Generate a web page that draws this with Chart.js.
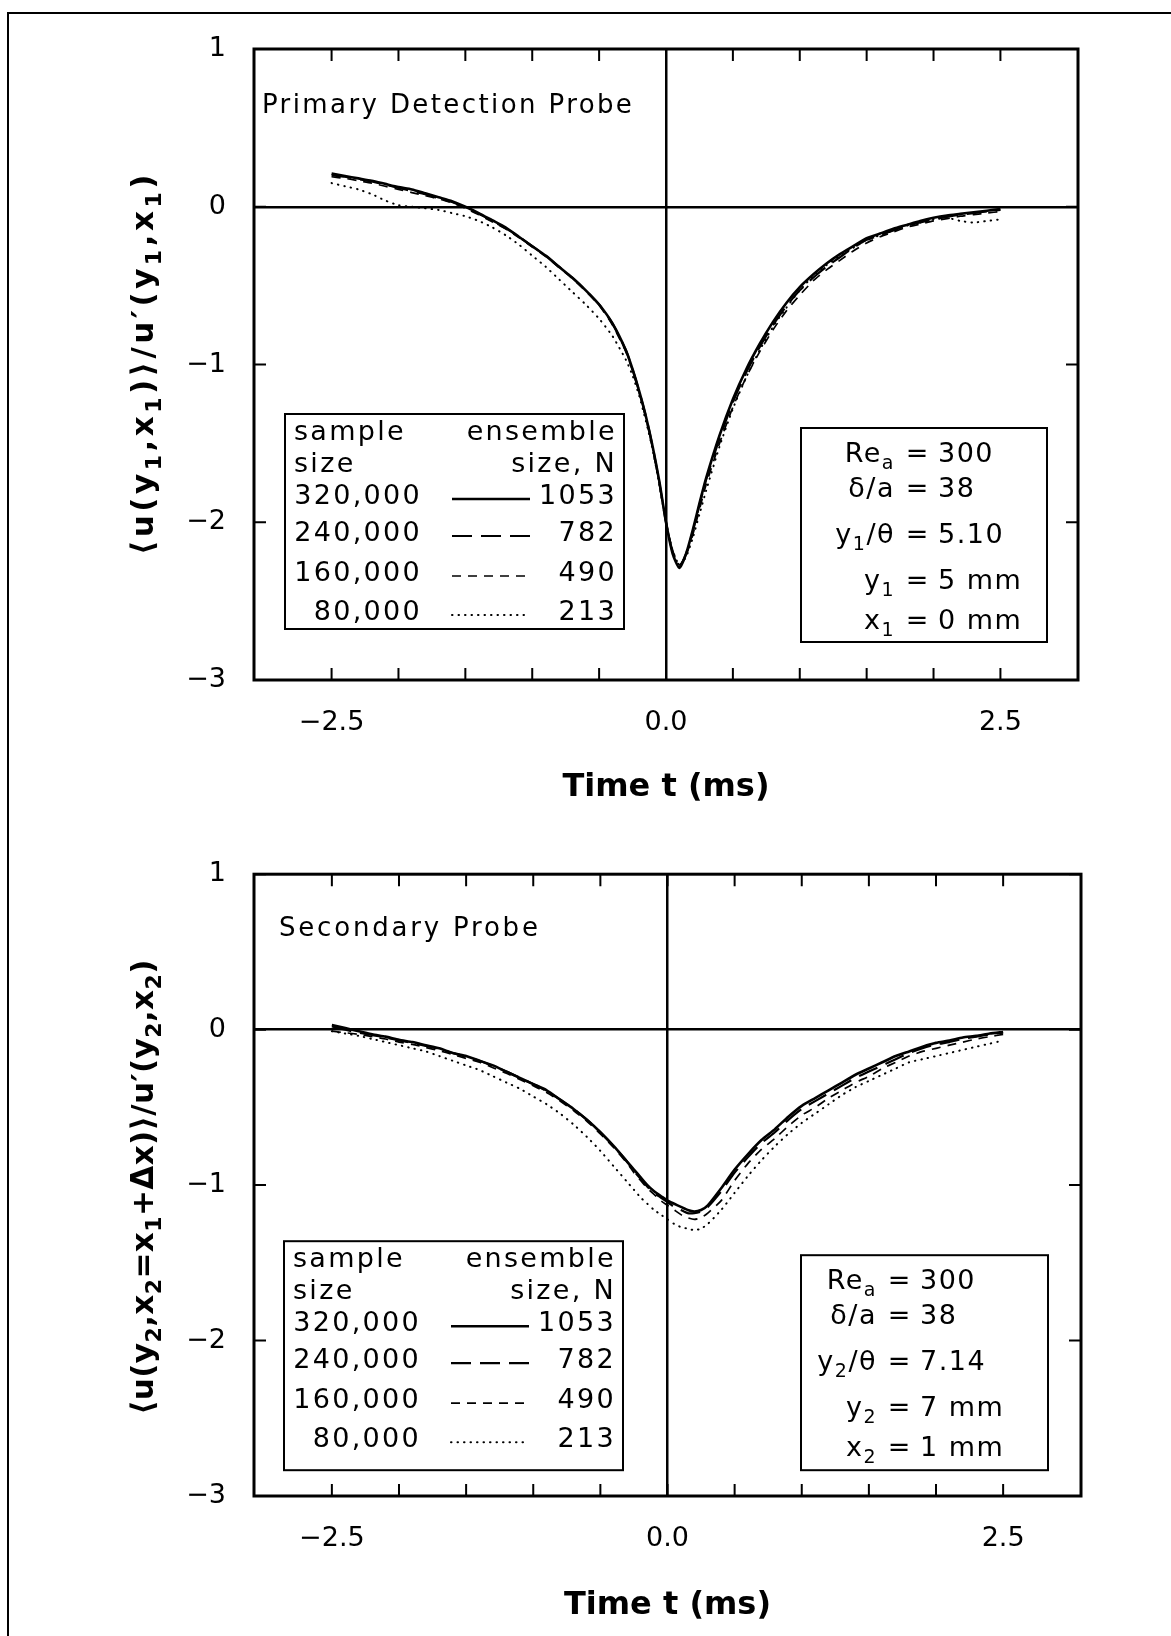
<!DOCTYPE html>
<html>
<head>
<meta charset="utf-8">
<script src="https://cdn.jsdelivr.net/npm/chart.js@4.4.1/dist/chart.umd.min.js"></script>
<style>
  body { margin: 0; background: #fff; }
  #page { position: relative; width: 1171px; height: 1636px; overflow: hidden; background: #fff; }
  #frame { position: absolute; left: 7px; top: 12px; width: 1300px; height: 1800px;
           border-left: 2px solid #000; border-top: 2px solid #000; }
  canvas { position: absolute; left: 0; }
  #topChart { top: 0; }
  #botChart { top: 830px; }
</style>
</head>
<body>
<div id="page">
  <div id="frame"></div>
  <canvas id="topChart" width="1171" height="830"></canvas>
  <canvas id="botChart" width="1171" height="806"></canvas>
</div>
<script>
// time axis (ms), shared by all curves
const timeMs = [-2.5, -2.4, -2.3, -2.2, -2.1, -2.0, -1.9, -1.8, -1.7, -1.6, -1.5, -1.4, -1.3, -1.2, -1.1,
  -1.0, -0.9, -0.8, -0.7, -0.6, -0.5, -0.4, -0.3, -0.25, -0.2, -0.15, -0.1, -0.05, 0, 0.05, 0.1, 0.15,
  0.2, 0.25, 0.3, 0.4, 0.5, 0.6, 0.7, 0.8, 0.9, 1.0, 1.1, 1.2, 1.3, 1.4, 1.5, 1.6, 1.7, 1.8, 1.9, 2.0,
  2.1, 2.2, 2.3, 2.4, 2.5];

// primary detection probe
const top1053 = [0.21, 0.195, 0.18, 0.165, 0.145, 0.125, 0.11, 0.085, 0.06, 0.035, 0.0, -0.04, -0.085, -0.13, -0.19,
  -0.25, -0.31, -0.38, -0.45, -0.53, -0.62, -0.74, -0.91, -1.03, -1.17, -1.33, -1.52, -1.74, -2.0, -2.2, -2.29, -2.2,
  -2.05, -1.88, -1.72, -1.45, -1.22, -1.03, -0.87, -0.73, -0.61, -0.51, -0.43, -0.36, -0.30, -0.25, -0.20, -0.17, -0.14, -0.115, -0.09, -0.07,
  -0.055, -0.045, -0.035, -0.025, -0.015];
const top782 = [0.20, 0.19, 0.175, 0.16, 0.14, 0.12, 0.10, 0.08, 0.055, 0.03, -0.005, -0.045, -0.09, -0.135, -0.19,
  -0.25, -0.31, -0.38, -0.45, -0.53, -0.62, -0.74, -0.91, -1.03, -1.17, -1.33, -1.52, -1.75, -2.0, -2.19, -2.28, -2.2,
  -2.06, -1.89, -1.73, -1.47, -1.24, -1.05, -0.89, -0.75, -0.63, -0.53, -0.45, -0.38, -0.32, -0.26, -0.21, -0.18, -0.15, -0.12, -0.10, -0.08,
  -0.065, -0.05, -0.04, -0.03, -0.02];
const top490 = [0.19, 0.18, 0.165, 0.15, 0.13, 0.11, 0.09, 0.07, 0.05, 0.025, -0.01, -0.05, -0.095, -0.14, -0.195,
  -0.255, -0.315, -0.385, -0.455, -0.535, -0.625, -0.75, -0.92, -1.04, -1.18, -1.34, -1.53, -1.75, -2.0, -2.18, -2.27, -2.21,
  -2.08, -1.92, -1.76, -1.5, -1.27, -1.08, -0.92, -0.78, -0.66, -0.56, -0.47, -0.40, -0.34, -0.28, -0.23, -0.19, -0.16, -0.13, -0.11, -0.09,
  -0.075, -0.06, -0.05, -0.04, -0.03];
const top213 = [0.15, 0.13, 0.11, 0.08, 0.04, 0.01, 0.0, -0.01, -0.02, -0.04, -0.06, -0.09, -0.13, -0.18, -0.24,
  -0.31, -0.38, -0.46, -0.54, -0.62, -0.71, -0.82, -0.97, -1.07, -1.2, -1.36, -1.54, -1.76, -2.0, -2.18, -2.27, -2.22,
  -2.1, -1.95, -1.8, -1.52, -1.28, -1.08, -0.91, -0.76, -0.64, -0.53, -0.44, -0.37, -0.31, -0.26, -0.21, -0.18, -0.15, -0.12, -0.10, -0.08,
  -0.07, -0.09, -0.10, -0.09, -0.08];

// secondary probe
const bot1053 = [0.03, 0.01, -0.01, -0.03, -0.045, -0.065, -0.08, -0.1, -0.12, -0.15, -0.17, -0.2, -0.23, -0.27, -0.31,
  -0.35, -0.39, -0.45, -0.51, -0.58, -0.66, -0.75, -0.85, -0.9, -0.95, -1.0, -1.04, -1.07, -1.1, -1.12, -1.14, -1.16,
  -1.17, -1.16, -1.13, -1.02, -0.9, -0.8, -0.71, -0.64, -0.56, -0.49, -0.44, -0.39, -0.34, -0.29, -0.25, -0.21, -0.17, -0.14, -0.11, -0.085,
  -0.07, -0.05, -0.04, -0.025, -0.015];
const bot782 = [0.02, 0.0, -0.02, -0.035, -0.05, -0.07, -0.085, -0.105, -0.125, -0.15, -0.175, -0.2, -0.235, -0.27, -0.31,
  -0.35, -0.395, -0.45, -0.51, -0.58, -0.66, -0.75, -0.85, -0.91, -0.96, -1.01, -1.05, -1.08, -1.11, -1.14, -1.16, -1.18,
  -1.18, -1.17, -1.14, -1.04, -0.92, -0.82, -0.73, -0.66, -0.58, -0.51, -0.46, -0.41, -0.36, -0.31, -0.27, -0.23, -0.19, -0.15, -0.12, -0.095,
  -0.08, -0.06, -0.045, -0.03, -0.02];
const bot490 = [-0.01, -0.02, -0.03, -0.045, -0.06, -0.08, -0.095, -0.115, -0.135, -0.16, -0.185, -0.21, -0.245, -0.28, -0.32,
  -0.36, -0.405, -0.46, -0.52, -0.59, -0.67, -0.76, -0.86, -0.92, -0.97, -1.02, -1.06, -1.1, -1.13, -1.16, -1.19, -1.21,
  -1.22, -1.21, -1.18, -1.1, -0.97, -0.86, -0.77, -0.7, -0.62, -0.55, -0.5, -0.44, -0.39, -0.34, -0.3, -0.25, -0.21, -0.17, -0.14, -0.12,
  -0.1, -0.08, -0.06, -0.045, -0.03];
const bot213 = [-0.01, -0.025, -0.04, -0.06, -0.08, -0.1, -0.12, -0.14, -0.17, -0.2, -0.23, -0.26, -0.3, -0.34, -0.38,
  -0.43, -0.48, -0.54, -0.61, -0.69, -0.78, -0.88, -0.98, -1.03, -1.08, -1.12, -1.16, -1.19, -1.22, -1.25, -1.27, -1.28,
  -1.29, -1.28, -1.25, -1.16, -1.05, -0.94, -0.84, -0.75, -0.67, -0.6, -0.54, -0.48, -0.42, -0.37, -0.33, -0.29, -0.25, -0.21, -0.19, -0.17,
  -0.15, -0.13, -0.11, -0.09, -0.07];

const sampleSizes = ['320,000', '240,000', '160,000', '80,000'];
const ensembleSizes = ['1053', '782', '490', '213'];

const xTicks = [-2.5, -2, -1.5, -1, -0.5, 0, 0.5, 1, 1.5, 2, 2.5];
const xLabels = { '-2.5': '\u22122.5', '0': '0.0', '2.5': '2.5' };
const yTicks = [-3, -2, -1, 0, 1];

// annotation text: [left part segments, right part]; a segment is [text, isSubscript]
const annotTop = [
  [[['Re', 0], ['a', 1]], '300'],
  [[['\u03b4/a', 0]], '38'],
  [[['y', 0], ['1', 1], ['/\u03b8', 0]], '5.10'],
  [[['y', 0], ['1', 1]], '5 mm'],
  [[['x', 0], ['1', 1]], '0 mm']
];
const annotBot = [
  [[['Re', 0], ['a', 1]], '300'],
  [[['\u03b4/a', 0]], '38'],
  [[['y', 0], ['2', 1], ['/\u03b8', 0]], '7.14'],
  [[['y', 0], ['2', 1]], '7 mm'],
  [[['x', 0], ['2', 1]], '1 mm']
];
const yTitleTop = [['\u27e8u(y', 0], ['1', 1], [',x', 0], ['1', 1], [')\u27e9/u\u2032(y', 0], ['1', 1], [',x', 0], ['1', 1], [')', 0]];
const yTitleBot = [['\u27e8u(y', 0], ['2', 1], [',x', 0], ['2', 1], ['=x', 0], ['1', 1], ['+\u0394x)\u27e9/u\u2032(y', 0], ['2', 1], [',x', 0], ['2', 1], [')', 0]];

const FAM = '"DejaVu Sans", "Liberation Sans", sans-serif';
const lineStyles = [
  { w: 2.6, dash: [], cap: 'butt' },
  { w: 2.2, dash: [20, 9], cap: 'butt' },
  { w: 1.7, dash: [9, 7], cap: 'butt' },
  { w: 2.0, dash: [0.5, 6], cap: 'round' }
];

function richWidth(ctx, segs, size, weight, spacing) {
  let w = 0;
  segs.forEach(([t, sub]) => {
    ctx.font = `${weight} ${sub ? Math.round(size * 0.7) : size}px ${FAM}`;
    ctx.letterSpacing = spacing + 'px';
    w += ctx.measureText(t).width;
  });
  return w;
}

function drawRich(ctx, segs, x, y, align, size, weight, spacing) {
  const w = richWidth(ctx, segs, size, weight, spacing);
  let cx = align === 'right' ? x - w : align === 'center' ? x - w / 2 : x;
  ctx.textAlign = 'left';
  ctx.textBaseline = 'middle';
  segs.forEach(([t, sub]) => {
    ctx.font = `${weight} ${sub ? Math.round(size * 0.7) : size}px ${FAM}`;
    ctx.letterSpacing = spacing + 'px';
    ctx.fillText(t, cx, sub ? y + size * 0.34 : y);
    cx += ctx.measureText(t).width;
  });
}

const decor = {
  id: 'decor',
  afterDatasetsDraw(chart, args, o) {
    const { ctx, chartArea: a, scales: { x, y } } = chart;
    ctx.save();
    ctx.strokeStyle = '#000';
    ctx.fillStyle = '#000';

    // inward ticks on all four sides
    ctx.lineWidth = 2;
    ctx.setLineDash([]);
    ctx.beginPath();
    xTicks.forEach(v => {
      const px = x.getPixelForValue(v);
      ctx.moveTo(px, a.bottom); ctx.lineTo(px, a.bottom - 12);
      ctx.moveTo(px, a.top); ctx.lineTo(px, a.top + 12);
    });
    yTicks.forEach(v => {
      const py = y.getPixelForValue(v);
      ctx.moveTo(a.left, py); ctx.lineTo(a.left + 12, py);
      ctx.moveTo(a.right, py); ctx.lineTo(a.right - 12, py);
    });
    ctx.stroke();
    ctx.lineWidth = 3;
    ctx.strokeRect(a.left, a.top, a.right - a.left, a.bottom - a.top);

    // panel label
    ctx.font = `26px ${FAM}`;
    ctx.letterSpacing = o.labelSpacing + 'px';
    ctx.textAlign = 'left';
    ctx.textBaseline = 'middle';
    ctx.fillText(o.label, a.left + o.labelDx, a.top + o.labelDy);

    // legend box
    const L = o.legend;
    const lx = a.left + L.dx, ly = a.top + L.dy;
    ctx.fillStyle = '#fff';
    ctx.fillRect(lx, ly, L.w, L.h);
    ctx.fillStyle = '#000';
    ctx.lineWidth = 2;
    ctx.strokeRect(lx, ly, L.w, L.h);
    const rows = [19, 51, 83, 120, 160, 199];
    ctx.font = `27px ${FAM}`;
    ctx.letterSpacing = '2.3px';
    ctx.textBaseline = 'middle';
    ctx.textAlign = 'left';
    ctx.fillText('sample', lx + 9, ly + rows[0]);
    ctx.fillText('size', lx + 9, ly + rows[1]);
    ctx.textAlign = 'right';
    ctx.fillText('ensemble', lx + 332, ly + rows[0]);
    ctx.fillText('size, N', lx + 332, ly + rows[1]);
    sampleSizes.forEach((s, i) => {
      const ry = ly + rows[i + 2];
      ctx.textAlign = 'right';
      ctx.fillText(s, lx + 137, ry);
      ctx.fillText(ensembleSizes[i], lx + 332, ry);
      const st = lineStyles[i];
      ctx.save();
      ctx.lineWidth = st.w;
      ctx.setLineDash(st.dash);
      ctx.lineCap = st.cap;
      ctx.beginPath();
      ctx.moveTo(lx + 167, ry + 2);
      ctx.lineTo(lx + 245, ry + 2);
      ctx.stroke();
      ctx.restore();
    });

    // parameter box
    const P = o.params;
    const px = a.left + P.dx, py = a.top + P.dy;
    ctx.fillStyle = '#fff';
    ctx.fillRect(px, py, P.w, P.h);
    ctx.fillStyle = '#000';
    ctx.lineWidth = 2;
    ctx.strokeRect(px, py, P.w, P.h);
    const prow = [27, 62, 108, 154, 194];
    o.annot.forEach(([left, right], i) => {
      const ry = py + prow[i];
      const ex = px + P.eq;
      drawRich(ctx, left, ex - 22, ry, 'right', 27, 'normal', 1.5);
      drawRich(ctx, [['=', 0]], ex, ry, 'center', 27, 'normal', 0);
      drawRich(ctx, [[right, 0]], ex + 21, ry, 'left', 27, 'normal', 1.5);
    });

    // rotated y-axis title
    ctx.save();
    ctx.translate(o.yTitleX, o.yTitleY);
    ctx.rotate(-Math.PI / 2);
    drawRich(ctx, o.yTitle, 0, 0, 'center', 31, 'bold', o.yTitleSpacing);
    ctx.restore();

    ctx.letterSpacing = '0px';
    ctx.restore();
  }
};

function makeChart(id, series, cfg) {
  return new Chart(document.getElementById(id), {
    type: 'line',
    data: {
      datasets: series.map((s, i) => ({
        label: 'N = ' + ensembleSizes[i],
        data: timeMs.map((t, k) => ({ x: t, y: s[k] })),
        borderColor: '#000',
        borderWidth: lineStyles[i].w,
        borderDash: lineStyles[i].dash,
        borderCapStyle: lineStyles[i].cap,
        pointRadius: 0,
        tension: 0.2,
        fill: false
      }))
    },
    options: {
      responsive: false,
      animation: false,
      layout: { padding: cfg.padding },
      plugins: { legend: { display: false }, tooltip: { enabled: false }, decor: cfg },
      scales: {
        x: {
          type: 'linear', min: -3.08, max: 3.08,
          afterBuildTicks: s => { s.ticks = xTicks.map(v => ({ value: v })); },
          afterFit: s => { s.height = 140; },
          grid: { drawTicks: false, lineWidth: 2.5, color: c => (c.tick && c.tick.value === 0) ? '#000' : 'rgba(0,0,0,0)' },
          border: { display: false },
          ticks: { padding: 27, maxRotation: 0, autoSkip: false, color: '#000', font: { family: FAM, size: 27 },
                   callback: v => xLabels[String(v)] ?? '' },
          title: { display: true, text: 'Time t (ms)', color: '#000', font: { family: FAM, size: 32, weight: 'bold' },
                   padding: { top: 0, bottom: cfg.titlePad } }
        },
        y: {
          min: -3, max: 1,
          afterBuildTicks: s => { s.ticks = yTicks.map(v => ({ value: v })); },
          afterFit: s => { s.width = 254; },
          grid: { drawTicks: false, lineWidth: 2.5, color: c => (c.tick && c.tick.value === 0) ? '#000' : 'rgba(0,0,0,0)' },
          border: { display: false },
          ticks: { padding: 28, color: '#000', font: { family: FAM, size: 27 },
                   callback: v => v < 0 ? '\u2212' + (-v) : String(v) }
        }
      }
    },
    plugins: [decor]
  });
}

makeChart('topChart', [top1053, top782, top490, top213], {
  padding: { top: 49, right: 93, bottom: 10, left: 0 },
  titlePad: 13,
  label: 'Primary Detection Probe', labelDx: 8, labelDy: 57, labelSpacing: 2.4,
  legend: { dx: 31, dy: 365, w: 339, h: 215 },
  params: { dx: 547, dy: 379, w: 246, h: 214, eq: 116 },
  annot: annotTop,
  yTitle: yTitleTop, yTitleX: 145, yTitleY: 363, yTitleSpacing: 3.5
});

makeChart('botChart', [bot1053, bot782, bot490, bot213], {
  padding: { top: 34, right: 90, bottom: 0, left: 0 },
  titlePad: 11,
  label: 'Secondary Probe', labelDx: 25, labelDy: 55, labelSpacing: 2.8,
  legend: { dx: 30, dy: 367, w: 339, h: 229 },
  params: { dx: 547, dy: 381, w: 247, h: 215, eq: 98 },
  annot: annotBot,
  yTitle: yTitleBot, yTitleX: 145, yTitleY: 357, yTitleSpacing: 0.4
});
</script>
</body>
</html>
